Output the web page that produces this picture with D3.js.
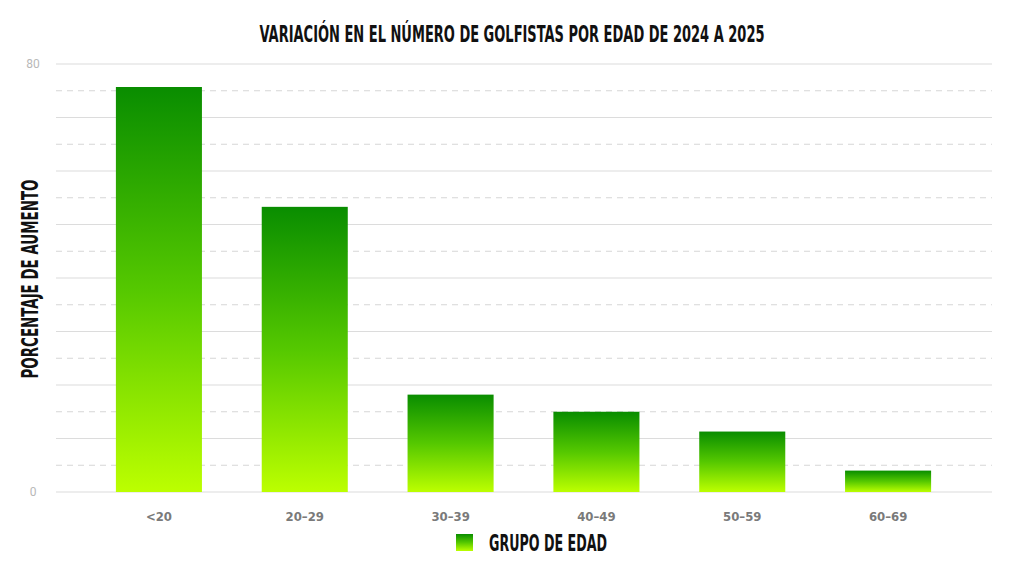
<!DOCTYPE html>
<html>
<head>
<meta charset="utf-8">
<script src="https://cdn.jsdelivr.net/npm/d3@7"></script>
<style>
  body { margin: 0; background: #fff; }
  .cond { font-family: "DejaVu Sans Condensed", "Liberation Sans Narrow", sans-serif; font-weight: bold; }
</style>
</head>
<body>
<svg id="chart" width="1024" height="579"></svg>
<script>
// data
const groups = ["<20", "20–29", "30–39", "40–49", "50–59", "60–69"];
const increase = [75.7, 53.3, 18.2, 15.0, 11.3, 4.0];
const yTicks = [0, 80];

const svg = d3.select("#chart");
const width = 1024, height = 579;

// x band covers the bars, gridlines run a bit wider
let x = d3.scaleBand().domain(groups).range([86, 961]).paddingInner(0.41).paddingOuter(0.205);
let y = d3.scaleLinear().domain([0, 80]).range([492, 64]);

// gradient for bars and legend swatch
let defs = svg.append("defs");
let grad = defs.append("linearGradient").attr("id", "barGrad")
    .attr("x1", 0).attr("y1", 0).attr("x2", 0).attr("y2", 1);
grad.append("stop").attr("offset", "0%").attr("stop-color", "#098d00");
grad.append("stop").attr("offset", "50%").attr("stop-color", "#55c800");
grad.append("stop").attr("offset", "100%").attr("stop-color", "#bcff00");

// grid: solid every 10, dashed at the 5s
let gridVals = d3.range(0, 81, 5);
svg.append("g").selectAll("line").data(gridVals).enter().append("line")
    .attr("x1", 56).attr("x2", 992)
    .attr("y1", d => y(d)).attr("y2", d => y(d))
    .attr("stroke", d => d % 10 === 0 ? "#dcdcdc" : "#d6d6d6")
    .attr("stroke-width", d => d % 10 === 0 ? 1.2 : 1)
    .attr("stroke-dasharray", d => d % 10 === 0 ? null : "6,5");

// y tick labels
svg.append("g").selectAll("text").data(yTicks).enter().append("text")
    .attr("x", 33).attr("y", d => y(d)).attr("dy", "0.35em")
    .attr("text-anchor", "middle")
    .style("font-family", "Roboto, sans-serif").style("font-size", "12px")
    .attr("fill", "#b8b8b8")
    .text(d => d);

// bars
svg.append("g").selectAll("rect").data(increase).enter().append("rect")
    .attr("x", (d, i) => x(groups[i]))
    .attr("width", x.bandwidth())
    .attr("y", d => y(d))
    .attr("height", d => y(0) - y(d))
    .attr("fill", "url(#barGrad)");

// x labels
svg.append("g").selectAll("text").data(groups).enter().append("text")
    .attr("class", "cond")
    .attr("x", d => x(d) + x.bandwidth() / 2).attr("y", 521)
    .attr("text-anchor", "middle")
    .style("font-size", "13px").attr("fill", "#7a7a7a")
    .text(d => d);

// title
svg.append("text").attr("class", "cond")
    .attr("x", 512).attr("y", 42).attr("text-anchor", "middle")
    .style("font-size", "23px").attr("fill", "#111")
    .attr("textLength", 505).attr("lengthAdjust", "spacingAndGlyphs")
    .text("VARIACIÓN EN EL NÚMERO DE GOLFISTAS POR EDAD DE 2024 A 2025");

// y axis title
svg.append("text").attr("class", "cond")
    .attr("transform", "translate(38,279) rotate(-90)")
    .attr("text-anchor", "middle")
    .style("font-size", "23px").attr("fill", "#111")
    .attr("textLength", 199).attr("lengthAdjust", "spacingAndGlyphs")
    .text("PORCENTAJE DE AUMENTO");

// legend
let legend = svg.append("g").attr("transform", "translate(456,534)");
legend.append("rect").attr("width", 17).attr("height", 17).attr("fill", "url(#barGrad)");
legend.append("text").attr("class", "cond")
    .attr("x", 33).attr("y", 17)
    .style("font-size", "23px").attr("fill", "#111")
    .attr("textLength", 118).attr("lengthAdjust", "spacingAndGlyphs")
    .text("GRUPO DE EDAD");
</script>
</body>
</html>
